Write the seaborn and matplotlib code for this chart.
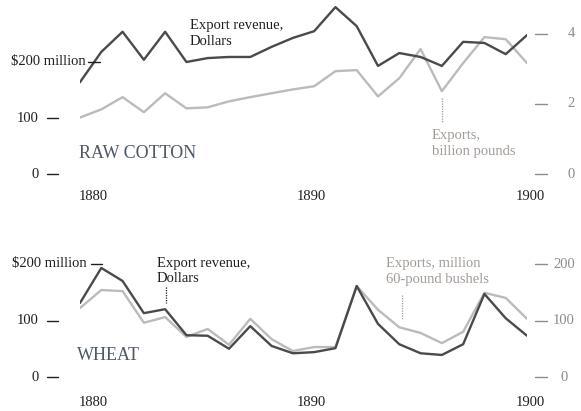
import matplotlib
matplotlib.use("Agg")
import matplotlib.pyplot as plt
import matplotlib.transforms as mtransforms
import seaborn as sns
import pandas as pd
import numpy as np

# ---------------- data ----------------
years = list(range(1879, 1901))

cotton_revenue = [164, 218, 254, 204, 254, 200, 207, 209, 209, 227, 243,
                  255, 298, 264, 193, 216, 209, 193, 236, 234, 214, 248]   # $ million
cotton_exports = [1.61, 1.84, 2.19, 1.76, 2.30, 1.87, 1.90, 2.07, 2.19, 2.30, 2.41,
                  2.50, 2.93, 2.96, 2.21, 2.73, 3.56, 2.36, 3.16, 3.90, 3.84, 3.16]  # billion lb

wheat_revenue = [131, 193, 170, 113, 120, 74, 73, 50, 90, 55, 42,
                 44, 51, 161, 94, 58, 42, 39, 58, 147, 104, 73]   # $ million
wheat_exports = [122, 154, 152, 96, 106, 71, 85, 57, 103, 67, 46,
                 53, 53, 161, 119, 88, 78, 60, 80, 149, 140, 103]  # million bushels

xticks = [1880, 1890, 1900]
left_ticks = [0, 100, 200]
left_ticklabels = ["0", "100", "$200 million"]
cotton_right_ticks = [0, 2, 4]
wheat_right_ticks = [0, 100, 200]

# ---------------- style ----------------
sns.set_style("white")
plt.rcParams["font.family"] = ["Liberation Serif", "DejaVu Serif"]

DARK = "#4a4a4a"
LIGHT = "#bbbbbb"
TXT = "#1f1f1f"
LABEL_LIGHT = "#a29c97"
TICK_GRAY = "#8c8c8c"
TITLE = "#4e5868"

W, H = 581, 411
fig = plt.figure(figsize=(W / 100, H / 100), dpi=100)


def fx(px):
    return px / W


def fy(py):
    return 1 - py / H


x0, x1 = 80, 527
ax_w = x1 - x0

# top axes: 0 at y=174, 300 at y=6
ax1 = fig.add_axes([fx(x0), fy(174), (x1 - x0) / W, 168 / H])
# bottom axes: 0 at y=377, 300 at y=207.5
ax2 = fig.add_axes([fx(x0), fy(377), (x1 - x0) / W, 169.5 / H])

df_c = pd.DataFrame({"year": years, "rev": cotton_revenue, "exp": cotton_exports})
df_w = pd.DataFrame({"year": years, "rev": wheat_revenue, "exp": wheat_exports})

# ----- top panel -----
ax1r = ax1.twinx()
sns.lineplot(data=df_c, x="year", y="exp", ax=ax1r, color=LIGHT, lw=1.7)
sns.lineplot(data=df_c, x="year", y="rev", ax=ax1, color=DARK, lw=1.7)
ax1.set_zorder(ax1r.get_zorder() + 1)
ax1.patch.set_visible(False)
ax1.set_ylim(0, 300)
ax1r.set_ylim(0, 168 / 35.1)

# ----- bottom panel -----
sns.lineplot(data=df_w, x="year", y="exp", ax=ax2, color=LIGHT, lw=1.7)
sns.lineplot(data=df_w, x="year", y="rev", ax=ax2, color=DARK, lw=1.7)
ax2.set_ylim(0, 300)

for a in (ax1, ax1r, ax2):
    a.set_xlim(1879, 1900)
    for s in a.spines.values():
        s.set_visible(False)
    a.set_xticks([])
    a.set_yticks([])
    a.set_xlabel("")
    a.set_ylabel("")


def blend(a):
    return mtransforms.blended_transform_factory(a.transAxes, a.transData)


def px2ax(px):
    return (px - x0) / ax_w


FS = 10.5
LS = 1.3

# left tick marks & labels (top and bottom)
for a, big_dash, big_lab in ((ax1, (88, 100), 86), (ax2, (91, 102), 87)):
    tr = blend(a)
    for v, lab in zip(left_ticks, left_ticklabels):
        if v == 200:
            d0, d1 = big_dash
            lx = big_lab
        else:
            d0, d1 = 47, 58
            lx = 39
        a.plot([px2ax(d0), px2ax(d1)], [v, v], transform=tr, color=TXT,
               lw=1.0, clip_on=False)
        a.text(px2ax(lx), v, lab, transform=tr, ha="right", va="center",
               fontsize=FS, color=TXT)

# right tick marks & labels
tr = blend(ax1r)
for v in cotton_right_ticks:
    ax1r.plot([px2ax(535), px2ax(547)], [v, v], transform=tr, color=TICK_GRAY,
              lw=1.0, clip_on=False)
    ax1r.text(px2ax(571), v, str(v), transform=tr, ha="center", va="center",
              fontsize=FS, color=TICK_GRAY)
tr = blend(ax2)
for v in wheat_right_ticks:
    ax2.plot([px2ax(535), px2ax(547)], [v, v], transform=tr, color=TICK_GRAY,
             lw=1.0, clip_on=False)
    ax2.text(px2ax(564), v, str(v), transform=tr, ha="center", va="center",
             fontsize=FS, color=TICK_GRAY)

# x labels
for a, ypix, ybase in ((ax1, 196, 174), (ax2, 402, 377)):
    trx = mtransforms.blended_transform_factory(a.transData, a.transAxes)
    h = a.get_position().height * H
    for yr in xticks:
        off = -8 if yr == 1880 else (-3 if yr == 1890 else 3)
        t = mtransforms.offset_copy(trx, fig=fig, x=off * 0.72, y=0, units="points")
        a.text(yr, -(ypix - ybase) / h, str(yr), transform=t, ha="center",
               va="center", fontsize=FS, color=TXT)

# annotations
fig.text(fx(190), fy(33.5), "Export revenue,\nDollars", ha="left", va="center",
         fontsize=FS, color=TXT, linespacing=LS)
fig.text(fx(79), fy(153), "RAW COTTON", ha="left", va="center",
         fontsize=13, color=TITLE)
fig.text(fx(432), fy(143.5), "Exports,\nbillion pounds", ha="left", va="center",
         fontsize=FS, color=LABEL_LIGHT, linespacing=LS)
fig.add_artist(plt.Line2D([fx(442), fx(442)], [fy(98), fy(123)],
                          color=LABEL_LIGHT, lw=0.9, ls=(0, (1, 1))))

fig.text(fx(157), fy(271), "Export revenue,\nDollars", ha="left", va="center",
         fontsize=FS, color=TXT, linespacing=LS)
fig.add_artist(plt.Line2D([fx(166), fx(166)], [fy(287), fy(303)],
                          color=TXT, lw=0.9, ls=(0, (1, 1))))
fig.text(fx(77), fy(355), "WHEAT", ha="left", va="center",
         fontsize=13, color=TITLE)
fig.text(fx(386), fy(272), "Exports, million\n60-pound bushels", ha="left",
         va="center", fontsize=FS, color=LABEL_LIGHT, linespacing=LS)
fig.add_artist(plt.Line2D([fx(402), fx(402)], [fy(295), fy(320)],
                          color=LABEL_LIGHT, lw=0.9, ls=(0, (1, 1))))

fig.savefig("out.png", dpi=100, facecolor="white")
